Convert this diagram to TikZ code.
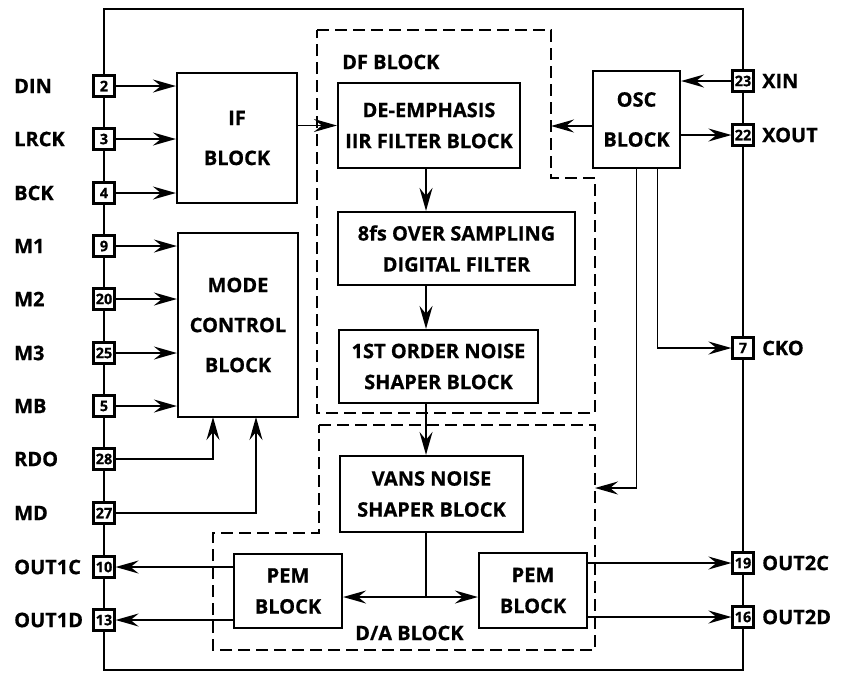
\documentclass[tikz,border=0pt]{standalone}
\usepackage{fontspec}
\setmainfont{Open Sans}[BoldFeatures={FakeBold=0.6}]
\usetikzlibrary{arrows.meta}

\tikzset{
  >={Stealth[length=23pt, width=13pt, inset=8pt]},
  blk/.style={draw, line width=2.2pt, align=center, inner sep=0pt, font=\fontsize{20}{31}\selectfont\bfseries},
  bigblk/.style={blk, font=\fontsize{20}{40}\selectfont\bfseries},
  pin/.style={draw, line width=2.2pt, fill=white, minimum size=21pt, inner sep=0pt, font=\fontsize{14.5}{14.5}\selectfont\bfseries},
  lbl/.style={anchor=west, inner sep=0pt, font=\fontsize{20}{24}\selectfont\bfseries},
  sig/.style={line width=1.9pt, ->},
  bnd/.style={line width=2.6pt, dash pattern=on 12pt off 6pt},
}

\begin{document}
\begin{tikzpicture}[x=1pt, y=-1pt]
\useasboundingbox (0,0) rectangle (846,673);
\draw[line width=1.9pt] (104,9) rectangle (743,670);

\draw[bnd] (317,30) -- (551,30) -- (551,178) -- (595,178) -- (595,413) -- (317,413) -- cycle;
\draw[bnd] (319,425) -- (595,425) -- (595,650) -- (213,650) -- (213,533) -- (319,533) -- cycle;
\node[lbl] (dft) at (342,62) {DF BLOCK};
\node[lbl] (dat) at (355,633) {D/A BLOCK};

\foreach \n/\t/\y in {2/DIN/86, 3/LRCK/139, 4/BCK/193, 9/M1/246, 20/M2/299, 25/M3/353, 5/MB/406, 28/RDO/459, 27/MD/513, 10/OUT1C/567, 13/OUT1D/620} {
  \node[pin] (p\n) at (104,\y) {\n};
  \node[lbl] (l\n) at (14,\y) {\t};
}
\foreach \n/\t/\y in {23/XIN/81, 22/XOUT/135, 7/CKO/348, 19/OUT2C/563, 16/OUT2D/617} {
  \node[pin] (p\n) at (743,\y) {\n};
  \node[lbl] (l\n) at (762,\y) {\t};
}

\node[bigblk, minimum width=120pt, minimum height=130pt] (ifb) at (237,138) {IF\\BLOCK};
\node[bigblk, minimum width=120pt, minimum height=184pt] (mcb) at (238,325) {MODE\\CONTROL\\BLOCK};
\node[blk, minimum width=182pt, minimum height=85pt] (dem) at (429,125.5) {DE-EMPHASIS\\IIR FILTER BLOCK};
\node[blk, minimum width=237pt, minimum height=73pt] (ovs) at (456.5,248.5) {8fs OVER SAMPLING\\DIGITAL FILTER};
\node[blk, minimum width=199pt, minimum height=73pt] (nsa) at (438.5,366.5) {1ST ORDER NOISE\\SHAPER BLOCK};
\node[blk, minimum width=183pt, minimum height=76pt] (vns) at (431.5,494) {VANS NOISE\\SHAPER BLOCK};
\node[blk, minimum width=108pt, minimum height=74pt] (peml) at (288,591) {PEM\\BLOCK};
\node[blk, minimum width=108pt, minimum height=75pt] (pemr) at (533,590.5) {PEM\\BLOCK};
\node[bigblk, minimum width=87pt, minimum height=97pt] (osc) at (636.5,119.5) {OSC\\BLOCK};

\coordinate (col) at (426,0);
\coordinate (dfr) at (551,126);
\coordinate (dar) at (595,488);
\coordinate (rdo) at (213,417);
\coordinate (md) at (256,417);
\coordinate (bus) at (426,597);

\foreach \n in {2,3,4} \draw[sig] (p\n) -- (p\n -| ifb.west);
\foreach \n in {9,20,25,5} \draw[sig] (p\n) -- (p\n -| mcb.west);
\draw[sig] (p28) -| (rdo);
\draw[sig] (p27) -| (md);

\draw[sig] (ifb.east |- dem.west) -- (dem.west);
\draw[sig] (dem.south -| col) -- (ovs.north -| col);
\draw[sig] (ovs.south -| col) -- (nsa.north -| col);
\draw[sig] (nsa.south -| col) -- (vns.north -| col);
\draw[line width=1.9pt] (vns.south -| col) -- (bus);
\draw[line width=1.9pt, <->] (peml.east |- bus) -- (pemr.west |- bus);

\draw[sig] (peml.west |- p10) -- (p10);
\draw[sig] (peml.west |- p13) -- (p13);
\draw[sig] (pemr.east |- p19) -- (p19);
\draw[sig] (pemr.east |- p16) -- (p16);

\draw[sig] (p23) -- (p23 -| osc.east);
\draw[sig] (osc.east |- p22) -- (p22);
\draw[sig] (osc.west |- dfr) -- (dfr);
\draw[sig] (osc.south) |- (dar);
\draw[sig] ([xshift=21pt]osc.south) |- (p7);
\end{tikzpicture}
\end{document}
